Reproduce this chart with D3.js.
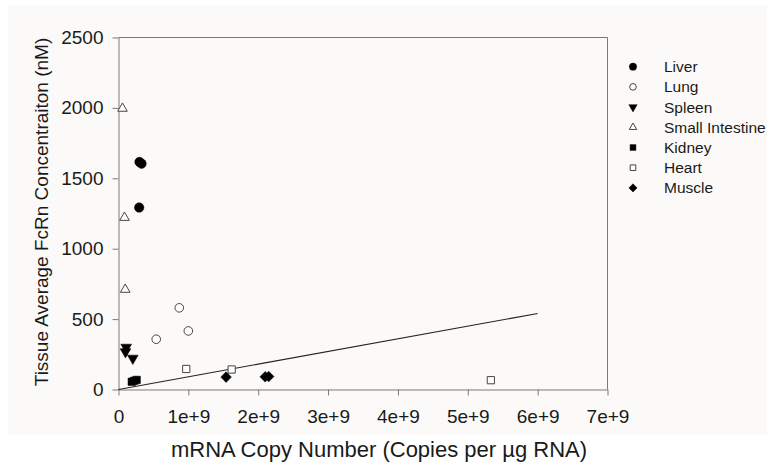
<!DOCTYPE html>
<html>
<head>
<meta charset="utf-8">
<script src="https://cdn.jsdelivr.net/npm/d3@7"></script>
<style>
  body { margin: 0; background: #ffffff; }
  svg { display: block; font-family: "Liberation Sans", Arial, sans-serif; }
</style>
</head>
<body>
<svg id="chart" width="767" height="469"></svg>
<script>
// series names, in legend order
var organs = ["Liver", "Lung", "Spleen", "Small Intestine", "Kidney", "Heart", "Muscle"];

// [mRNA copies per ug RNA, FcRn nM]
var liver = [[3.0e8, 1616], [3.3e8, 1604], [2.96e8, 1292]];
var lung = [[5.4e8, 357], [8.7e8, 580], [1.0e9, 416]];
var spleen = [[1.1e8, 300], [1.0e8, 268], [2.05e8, 222]];
var smallIntestine = [[5.7e7, 1996], [8.6e7, 1221], [9.6e7, 710]];
var kidney = [[1.9e8, 55], [2.25e8, 62], [2.6e8, 68]];
var heart = [[9.7e8, 146], [1.62e9, 142], [5.33e9, 66]];
var muscle = [[1.54e9, 88], [2.10e9, 90], [2.15e9, 92]];

// fitted line end points
var fitLine = [[0, 0], [6e9, 540]];

var xTicks = [0, 1e9, 2e9, 3e9, 4e9, 5e9, 6e9, 7e9];
var yTicks = [0, 500, 1000, 1500, 2000, 2500];

var seriesData = [liver, lung, spleen, smallIntestine, kidney, heart, muscle];
// marker: symbol type, filled?, rotation
var markers = [
    { type: d3.symbolCircle, fill: true, rot: 0, size: 70 },
    { type: d3.symbolCircle, fill: false, rot: 0, size: 58 },
    { type: d3.symbolTriangle, fill: true, rot: 180, size: 50 },
    { type: d3.symbolTriangle, fill: false, rot: 0, size: 40 },
    { type: d3.symbolSquare, fill: true, rot: 0, size: 56 },
    { type: d3.symbolSquare, fill: false, rot: 0, size: 52 },
    { type: d3.symbolSquare, fill: true, rot: 45, size: 56 }
];

var svg = d3.select("#chart");

// faint tinted panel behind the figure
svg.append("rect")
    .attr("x", 8).attr("y", 5)
    .attr("width", 759).attr("height", 430)
    .attr("fill", "#fcfaf8");

var plotLeft = 118.5, plotRight = 607.5, plotTop = 37.5, plotBottom = 389.5;

var x = d3.scaleLinear().domain([0, 7e9]).range([plotLeft, plotRight]);
var y = d3.scaleLinear().domain([0, 2500]).range([plotBottom, plotTop]);

var axisColor = "#7a7a7a";

// frame top + right
svg.append("path")
    .attr("d", "M" + plotLeft + "," + plotTop + "H" + plotRight + "V" + plotBottom)
    .attr("fill", "none")
    .attr("stroke", axisColor);

var xAxis = d3.axisBottom(x)
    .tickValues(xTicks)
    .tickSizeInner(6).tickSizeOuter(0)
    .tickPadding(14)
    .tickFormat(function (d) { return d === 0 ? "0" : (d / 1e9) + "e+9"; });

var yAxis = d3.axisLeft(y)
    .tickValues(yTicks)
    .tickSizeInner(6).tickSizeOuter(0)
    .tickPadding(9)
    .tickFormat(d3.format("d"));

var gx = svg.append("g").attr("transform", "translate(0," + plotBottom + ")").call(xAxis);
var gy = svg.append("g").attr("transform", "translate(" + plotLeft + ",0)").call(yAxis);

[gx, gy].forEach(function (g) {
    g.select(".domain").attr("stroke", axisColor);
    g.selectAll(".tick line").attr("stroke", axisColor);
    g.selectAll(".tick text")
        .attr("fill", "#1a1a1a")
        .style("font-size", "19px")
        .style("font-family", "'Liberation Sans', Arial, sans-serif");
});

// regression line
svg.append("line")
    .attr("x1", x(fitLine[0][0])).attr("y1", y(fitLine[0][1]))
    .attr("x2", x(fitLine[1][0])).attr("y2", y(fitLine[1][1]))
    .attr("stroke", "#222")
    .attr("stroke-width", 1.1);

function drawMarker(sel, m, scale) {
    var sym = d3.symbol().type(m.type).size(m.size * scale);
    sel.attr("d", sym)
        .attr("fill", m.fill ? "#000" : "#fff")
        .attr("stroke", m.fill ? "#000" : "#444")
        .attr("stroke-width", m.fill ? 0.5 : 1);
}

seriesData.forEach(function (pts, i) {
    var m = markers[i];
    svg.append("g").selectAll("path")
        .data(pts)
        .enter().append("path")
        .attr("transform", function (d) {
            return "translate(" + x(d[0]) + "," + y(d[1]) + ") rotate(" + m.rot + ")";
        })
        .call(drawMarker, m, 1);
});

// legend
var legend = svg.append("g");
organs.forEach(function (name, i) {
    var ly = 66.7 + i * 20.2;
    var m = markers[i];
    legend.append("path")
        .attr("transform", "translate(633," + ly + ") rotate(" + m.rot + ")")
        .call(drawMarker, m, 0.6);
    legend.append("text")
        .attr("x", 664).attr("y", ly)
        .attr("dy", "0.36em")
        .attr("fill", "#1a1a1a")
        .style("font-size", "15.5px")
        .text(name);
});

// axis titles
svg.append("text")
    .attr("x", 379).attr("y", 457)
    .attr("text-anchor", "middle")
    .attr("fill", "#1a1a1a")
    .style("font-size", "22px")
    .text("mRNA Copy Number (Copies per \u00b5g RNA)");

svg.append("text")
    .attr("transform", "translate(41,212) rotate(-90)")
    .attr("text-anchor", "middle")
    .attr("dy", "0.35em")
    .attr("fill", "#1a1a1a")
    .style("font-size", "19px")
    .text("Tissue Average FcRn Concentraiton (nM)");
</script>
</body>
</html>
